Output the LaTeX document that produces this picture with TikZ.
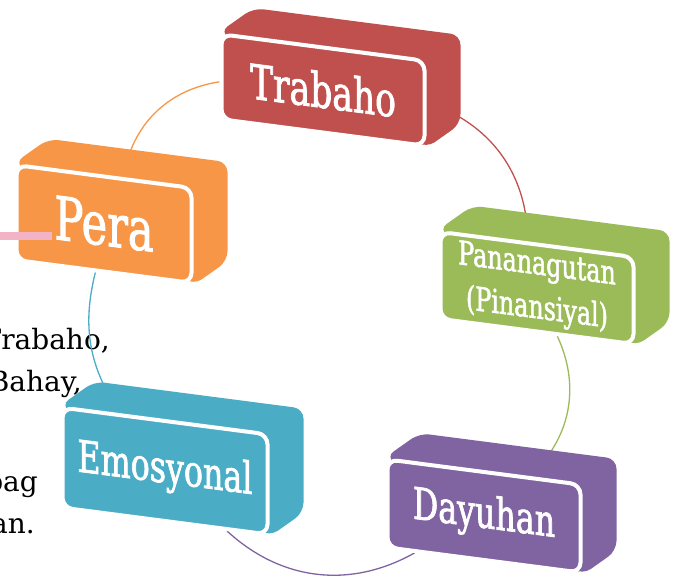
\documentclass[tikz,border=0pt]{standalone}
\usepackage{fontspec}
\usepackage{tikz}
\newfontfamily\boxfont[FakeStretch=0.72, FakeBold=1.5]{DejaVu Serif}
\newfontfamily\slidefont{DejaVu Serif}

\definecolor{trabahoRed}{HTML}{C0504D}
\definecolor{peraOrange}{HTML}{F79646}
\definecolor{pananagutanGreen}{HTML}{9BBB59}
\definecolor{dayuhanPurple}{HTML}{8064A2}
\definecolor{emosyonalBlue}{HTML}{4BACC6}
\definecolor{barPink}{HTML}{F2B3C6}

\pgfdeclarelayer{arcs}
\pgfdeclarelayer{depth}
\pgfsetlayers{arcs,depth,main}

\tikzset{
	block/.style={rectangle, rounded corners=10pt, draw=white, line width=4pt,
		text=white, align=center, yslant=-0.13, inner sep=0pt},
	arc/.style={line width=1.3pt, bend left=36},
	slidetext/.style={anchor=base east, font=\slidefont\fontsize{28}{30}\selectfont, inner sep=0pt}
}

% side and top faces behind a block
\newcommand{\blockdepth}[2]{%
	\begin{pgfonlayer}{depth}
		\fill[#2, rounded corners=10pt] (#1.center) -- (#1.north west)
			-- ([shift={(34,24)}]#1.north west) -- ([shift={(34,24)}]#1.north east)
			-- ([shift={(34,24)}]#1.south east) -- (#1.south east) -- cycle;
	\end{pgfonlayer}}

\begin{document}
\begin{tikzpicture}[x=1pt, y=1pt]
	\useasboundingbox (0,0) rectangle (675,-578);
	\clip (0,0) rectangle (675,-578);

	% Text of the slide behind the diagram
	\begin{pgfonlayer}{arcs}
	\node [slidetext] (line1) at (110,-349) {Trabaho,};
	\node [slidetext] (line2) at (82,-391)  {Bahay,};
	\node [slidetext] (line3) at (38,-491)  {bag};
	\node [slidetext] (line4) at (35,-533)  {an.};
	\end{pgfonlayer}

	% Blocks {trabaho, pananagutan, dayuhan, emosyonal, pera}
	\node [block, fill=trabahoRed, minimum width=203, minimum height=85,
		font=\boxfont\fontsize{48}{50}\selectfont] (trabaho) at (323,-90) {Trabaho};
	\node [block, fill=pananagutanGreen, minimum width=193, minimum height=87,
		font=\boxfont\fontsize{33}{44}\selectfont] (pananagutan) at (537,-288) {Pananagutan\\(Pinansiyal)};
	\node [block, fill=dayuhanPurple, minimum width=193, minimum height=88,
		font=\boxfont\fontsize{44}{46}\selectfont] (dayuhan) at (484,-516) {Dayuhan};
	\node [block, fill=emosyonalBlue, minimum width=205, minimum height=100,
		font=\boxfont\fontsize{44}{46}\selectfont] (emosyonal) at (165,-471) {Emosyonal};
	\node [block, fill=peraOrange, minimum width=175, minimum height=95,
		font=\boxfont\fontsize{60}{62}\selectfont] (pera) at (104,-224) {Pera};

	\blockdepth{trabaho}{trabahoRed}
	\blockdepth{pananagutan}{pananagutanGreen}
	\blockdepth{dayuhan}{dayuhanPurple}
	\blockdepth{emosyonal}{emosyonalBlue}
	\blockdepth{pera}{peraOrange}

	% Paths
	\begin{pgfonlayer}{arcs}
	\path [arc] (pera)        edge [peraOrange]       (trabaho);
	\path [arc] (trabaho)     edge [trabahoRed]       (pananagutan);
	\path [arc] (pananagutan) edge [pananagutanGreen] (dayuhan);
	\path [arc] (dayuhan)     edge [dayuhanPurple]    (emosyonal);
	\path [arc] (emosyonal)   edge [emosyonalBlue, bend left=24] (pera);
	\end{pgfonlayer}

	\fill [barPink] (0,-232) rectangle (52,-240);
\end{tikzpicture}
\end{document}
